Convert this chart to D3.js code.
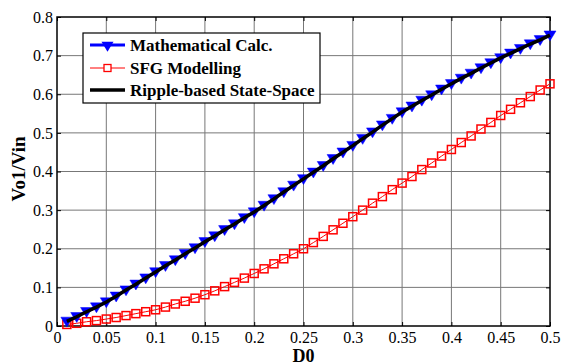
<!DOCTYPE html>
<html>
<head>
<meta charset="utf-8">
<script src="https://cdn.jsdelivr.net/npm/d3@7"></script>
<style>
  body { margin: 0; background: #fff; }
  svg, svg text { font-family: "Liberation Serif", "Times New Roman", serif; }
</style>
</head>
<body>
<script>
// duty cycle D0 (0.01 .. 0.5)
var d0 = [0.01,0.02,0.03,0.04,0.05,0.06,0.07,0.08,0.09,0.10,
          0.11,0.12,0.13,0.14,0.15,0.16,0.17,0.18,0.19,0.20,
          0.21,0.22,0.23,0.24,0.25,0.26,0.27,0.28,0.29,0.30,
          0.31,0.32,0.33,0.34,0.35,0.36,0.37,0.38,0.39,0.40,
          0.41,0.42,0.43,0.44,0.45,0.46,0.47,0.48,0.49,0.50];

// Mathematical Calc. (also Ripple-based State-Space, which sits on top of it)
var mathCalc = [0.012,0.024,0.037,0.049,0.062,0.077,0.093,0.108,0.124,0.140,
                0.156,0.171,0.187,0.202,0.218,0.233,0.249,0.264,0.280,0.295,
                0.312,0.329,0.347,0.364,0.381,0.398,0.415,0.433,0.450,0.467,
                0.485,0.502,0.520,0.537,0.554,0.569,0.584,0.598,0.613,0.627,
                0.641,0.654,0.668,0.681,0.694,0.706,0.718,0.730,0.741,0.753];
var rippleSS = mathCalc.slice();

// SFG Modelling
var sfg = [0.004,0.007,0.011,0.014,0.018,0.022,0.027,0.032,0.037,0.042,
           0.049,0.057,0.064,0.072,0.081,0.091,0.102,0.113,0.124,0.136,
           0.148,0.161,0.174,0.187,0.200,0.216,0.232,0.249,0.266,0.283,
           0.300,0.318,0.335,0.353,0.370,0.387,0.405,0.422,0.440,0.457,
           0.475,0.492,0.510,0.527,0.545,0.561,0.578,0.594,0.611,0.627];

var xTicks = [0,0.05,0.1,0.15,0.2,0.25,0.3,0.35,0.4,0.45,0.5];
var yTicks = [0,0.1,0.2,0.3,0.4,0.5,0.6,0.7,0.8];
var legendNames = ['Mathematical Calc.','SFG Modelling','Ripple-based State-Space'];

var FONT = '"Liberation Serif", "Times New Roman", serif';
var W = 561, H = 364;
var margin = {top: 17, right: 11, bottom: 38, left: 57};
var width = W - margin.left - margin.right,
    height = H - margin.top - margin.bottom;

var svg = d3.select("body").append("svg")
    .attr("width", W)
    .attr("height", H)
    .attr("font-family", FONT);

var g = svg.append("g")
    .attr("transform", "translate(" + margin.left + "," + margin.top + ")");

var x = d3.scaleLinear().domain([0, 0.5]).range([0, width]);
var y = d3.scaleLinear().domain([0, 0.8]).range([height, 0]);

var fmt = function(d){ return String(+d.toFixed(2)); };

// grid
g.append("g").selectAll("line")
    .data(xTicks.slice(1, -1))
    .enter().append("line")
    .attr("x1", function(d){ return x(d); })
    .attr("x2", function(d){ return x(d); })
    .attr("y1", 0).attr("y2", height)
    .attr("stroke", "#777").attr("stroke-width", 1);
g.append("g").selectAll("line")
    .data(yTicks.slice(1, -1))
    .enter().append("line")
    .attr("y1", function(d){ return y(d); })
    .attr("y2", function(d){ return y(d); })
    .attr("x1", 0).attr("x2", width)
    .attr("stroke", "#777").attr("stroke-width", 1);

// axes (ticks inside)
var xAxis = d3.axisBottom(x).tickValues(xTicks).tickFormat(fmt).tickSizeInner(-4).tickSizeOuter(0).tickPadding(6);
var yAxis = d3.axisLeft(y).tickValues(yTicks).tickFormat(fmt).tickSizeInner(-4).tickSizeOuter(0).tickPadding(4);

var gx = g.append("g").attr("transform", "translate(0," + height + ")").call(xAxis);
var gy = g.append("g").call(yAxis);
g.append("g").call(d3.axisTop(x).tickValues(xTicks).tickFormat("").tickSizeInner(-4).tickSizeOuter(0));
g.append("g").attr("transform", "translate(" + width + ",0)")
    .call(d3.axisRight(y).tickValues(yTicks).tickFormat("").tickSizeInner(-4).tickSizeOuter(0));

svg.selectAll(".domain").remove();
svg.selectAll(".tick line").attr("stroke", "#000");
[gx, gy].forEach(function(a){
    a.attr("font-family", FONT).attr("font-size", 16);
    a.selectAll("text").attr("fill", "#000");
});

// frame
g.append("rect")
    .attr("x", 0).attr("y", 0)
    .attr("width", width).attr("height", height)
    .attr("fill", "none").attr("stroke", "#000").attr("stroke-width", 1.5);

var line = d3.line()
    .x(function(d){ return x(d[0]); })
    .y(function(d){ return y(d[1]); });

var redPts = d0.map(function(v, i){ return [v, sfg[i]]; });
var bluePts = d0.map(function(v, i){ return [v, mathCalc[i]]; });
var blackPts = d0.map(function(v, i){ return [v, rippleSS[i]]; });

// SFG Modelling
g.append("path").datum(redPts)
    .attr("d", line).attr("fill", "none")
    .attr("stroke", "#ff0000").attr("stroke-width", 1);
g.append("g").selectAll("rect")
    .data(redPts)
    .enter().append("rect")
    .attr("x", function(d){ return x(d[0]) - 4; })
    .attr("y", function(d){ return y(d[1]) - 4; })
    .attr("width", 8).attr("height", 8)
    .attr("fill", "none").attr("stroke", "#ff0000").attr("stroke-width", 1.5);

// Mathematical Calc.
var tri = function(cx, cy, s){
    return "M" + (cx - s) + "," + (cy - s * 0.7) + "L" + (cx + s) + "," + (cy - s * 0.7) +
           "L" + cx + "," + (cy + s * 0.95) + "Z";
};
g.append("path").datum(bluePts)
    .attr("d", line).attr("fill", "none")
    .attr("stroke", "#0000ff").attr("stroke-width", 2.5);
g.append("g").selectAll("path")
    .data(bluePts)
    .enter().append("path")
    .attr("d", function(d){ return tri(x(d[0]), y(d[1]), 6); })
    .attr("fill", "#0000ff").attr("stroke", "#0000ff").attr("stroke-width", 0.5);

// Ripple-based State-Space
g.append("path").datum(blackPts)
    .attr("d", line).attr("fill", "none")
    .attr("stroke", "#000").attr("stroke-width", 3.5);

// axis titles
svg.append("text")
    .attr("x", margin.left + width / 2).attr("y", H - 2)
    .attr("text-anchor", "middle")
    .attr("font-size", 18).attr("font-weight", "bold")
    .text("D0");
svg.append("text")
    .attr("transform", "translate(25,169) rotate(-90)")
    .attr("text-anchor", "middle")
    .attr("font-size", 19).attr("font-weight", "bold")
    .text("Vo1/Vin");

// legend
var lg = svg.append("g").attr("transform", "translate(83,33)");
lg.append("rect")
    .attr("x", 0).attr("y", 0).attr("width", 237).attr("height", 70)
    .attr("fill", "#fff").attr("stroke", "#000").attr("stroke-width", 1.2);
var rowY = [12, 35, 57];
legendNames.forEach(function(name, i){
    var yy = rowY[i];
    var col = i === 0 ? "#0000ff" : (i === 1 ? "#ff0000" : "#000");
    var sw = i === 0 ? 3 : (i === 1 ? 1 : 3.5);
    lg.append("line")
        .attr("x1", 7).attr("x2", 42).attr("y1", yy).attr("y2", yy)
        .attr("stroke", col).attr("stroke-width", sw);
    if (i === 0) {
        lg.append("path").attr("d", tri(24.5, yy + 1, 6)).attr("fill", col);
    } else if (i === 1) {
        lg.append("rect").attr("x", 21).attr("y", yy - 3.5).attr("width", 7).attr("height", 7)
            .attr("fill", "#fff").attr("stroke", col).attr("stroke-width", 1.3);
    }
    lg.append("text")
        .attr("x", 47).attr("y", yy + 6)
        .attr("font-size", 17).attr("font-weight", "bold")
        .text(name);
});
</script>
</body>
</html>
